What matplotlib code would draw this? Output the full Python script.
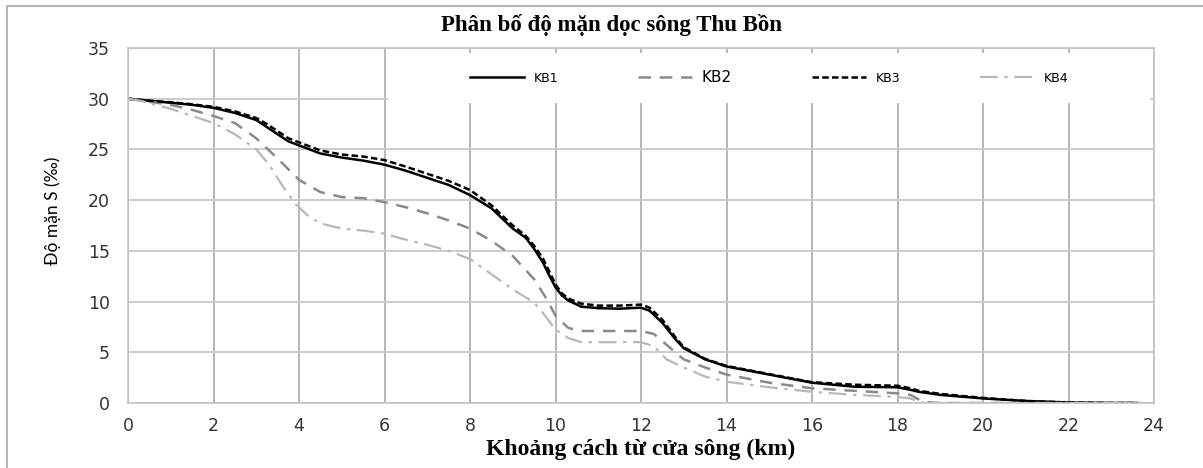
import matplotlib
matplotlib.use("Agg")
import matplotlib.pyplot as plt
from matplotlib.patches import Rectangle

# khoang cach (km) va do man S (‰) doc theo cac kich ban
x_kb1 = [0, 0.5, 1, 1.5, 2, 2.5, 3, 3.25, 3.5, 3.75, 4, 4.5, 5, 5.5, 6, 6.5, 7, 7.5, 8, 8.5,
         9, 9.3, 9.5, 9.7, 9.85, 10, 10.15, 10.3, 10.6, 11, 11.5, 12, 12.2, 12.5, 12.8, 13,
         13.5, 14, 15, 16, 17, 18, 18.3, 18.5, 19, 20, 21, 22, 23, 23.6]
s_kb1 = [30, 29.8, 29.6, 29.4, 29.1, 28.6, 27.9, 27.2, 26.5, 25.8, 25.4, 24.6, 24.2, 23.9, 23.5,
         22.9, 22.2, 21.5, 20.5, 19.2, 17.2, 16.3, 15.2, 13.9, 12.6, 11.4, 10.6, 10.1, 9.5, 9.35,
         9.3, 9.4, 9.1, 7.9, 6.3, 5.4, 4.3, 3.6, 2.8, 2.0, 1.6, 1.55, 1.3, 1.1, 0.8, 0.45, 0.2,
         0.05, 0, 0]

x_kb2 = [0, 0.5, 1, 1.5, 2, 2.5, 3, 3.5, 4, 4.5, 5, 5.5, 6, 6.5, 7, 7.5, 8, 8.5, 9, 9.5, 9.8,
         10, 10.3, 10.6, 11, 11.5, 12, 12.3, 12.5, 12.8, 13, 13.5, 14, 15, 16, 17, 18, 18.3,
         18.6, 19, 20, 21, 22, 23, 23.7]
s_kb2 = [30, 29.7, 29.4, 28.9, 28.3, 27.6, 26.1, 24.1, 22.0, 20.8, 20.3, 20.2, 19.8, 19.3, 18.7,
         18.0, 17.2, 16.0, 14.5, 12.2, 10.2, 8.6, 7.4, 7.1, 7.1, 7.1, 7.1, 6.8, 6.1, 5.0, 4.3,
         3.5, 2.8, 2.0, 1.45, 1.2, 0.95, 0.8, 0.1, 0, 0, 0, 0, 0, 0]

x_kb3 = x_kb1
s_kb3 = [30, 29.8, 29.65, 29.45, 29.2, 28.75, 28.1, 27.5, 26.8, 26.1, 25.7, 24.9, 24.5, 24.3,
         23.95, 23.3, 22.6, 21.9, 21.0, 19.5, 17.5, 16.5, 15.5, 14.3, 13.0, 11.7, 10.8, 10.3,
         9.8, 9.6, 9.6, 9.7, 9.4, 8.2, 6.5, 5.5, 4.35, 3.65, 2.85, 2.05, 1.8, 1.7, 1.45, 1.2,
         0.9, 0.5, 0.2, 0.05, 0, 0]

x_kb4 = [0, 0.3, 1, 1.5, 2, 2.5, 3, 3.3, 3.6, 3.9, 4.2, 4.5, 5, 5.5, 6, 6.5, 7, 7.5, 8, 8.5, 9,
         9.5, 9.7, 10, 10.3, 10.6, 11, 11.5, 12, 12.3, 12.6, 13, 13.5, 14, 15, 16, 17, 18, 18.3,
         18.5, 18.7, 19, 20, 21, 22, 23, 23.7]
s_kb4 = [30, 29.8, 29.0, 28.3, 27.6, 26.5, 25.0, 23.5, 21.5, 19.7, 18.5, 17.7, 17.2, 17.0, 16.7,
         16.1, 15.6, 15.0, 14.2, 12.7, 11.2, 9.9, 8.9, 7.25, 6.4, 6.0, 6.0, 6.0, 6.0, 5.6, 4.3,
         3.5, 2.6, 2.1, 1.55, 1.1, 0.8, 0.6, 0.45, 0.1, 0, 0, 0, 0, 0, 0, 0]

x_ticks = list(range(0, 25, 2))
y_ticks = list(range(0, 36, 5))

fig = plt.figure(figsize=(12.03, 4.68), dpi=100)
ax = fig.add_axes([0.1064, 0.1389, 0.8529, 0.7585])

# khung ngoai cua bieu do
fig.patches.append(Rectangle((7 / 1203, -0.05), 1.2, 1 - 6 / 468 + 0.05,
                             transform=fig.transFigure, fill=False,
                             edgecolor="#a6a6a6", linewidth=1.2))

ax.plot(x_kb1, s_kb1, color="black", lw=1.8, label="KB1")
ax.plot(x_kb2, s_kb2, color="#8a8a8a", lw=1.8, dashes=(5, 3.5), label="KB2")
ax.plot(x_kb3, s_kb3, color="black", lw=1.8, dashes=(2.6, 1.3), label="KB3")
ax.plot(x_kb4, s_kb4, color="#b8b8b8", lw=1.6, dashes=(8, 3, 1.5, 3), label="KB4")

ax.set_xlim(0, 24)
ax.set_ylim(0, 35)
ax.set_xticks(x_ticks)
ax.set_yticks(y_ticks)
ax.set_axisbelow(True)
ax.grid(axis="y", color="#c8c8c8", lw=1.3)
ax.grid(axis="x", color="#a3a3a3", lw=1.1)
for sp in ax.spines.values():
    sp.set_color("#c4c4c4")
    sp.set_linewidth(1.2)
ax.tick_params(length=0, labelsize=12.5, colors="#333333")
ax.tick_params(axis="x", pad=10)
ax.tick_params(axis="y", pad=13)

# nen trang cua chu giai
ax.add_patch(Rectangle((0.2534, 0.845), 0.7426, 0.141, transform=ax.transAxes,
                       facecolor="white", edgecolor="none", zorder=1))
leg = ax.legend(loc="center", bbox_to_anchor=(0.625, 0.918), ncol=4, frameon=False,
                fontsize=9, handlelength=4.3, handletextpad=0.8, columnspacing=6.4)
leg.get_texts()[1].set_fontsize(11)

fig.text(0.508, 0.947, "Phân bố độ mặn dọc sông Thu Bồn", ha="center", va="center",
         family="Liberation Serif", fontweight="bold", fontsize=16.5)
ax.set_xlabel("Khoảng cách từ cửa sông (km)", family="Liberation Serif",
              fontweight="bold", fontsize=17, labelpad=3)
ax.set_ylabel("Độ mặn S (‰)", family=["Lato", "DejaVu Sans"], fontsize=12.5)
ax.yaxis.set_label_coords(-0.065, 0.541)

fig.savefig("out.png", dpi=100)
